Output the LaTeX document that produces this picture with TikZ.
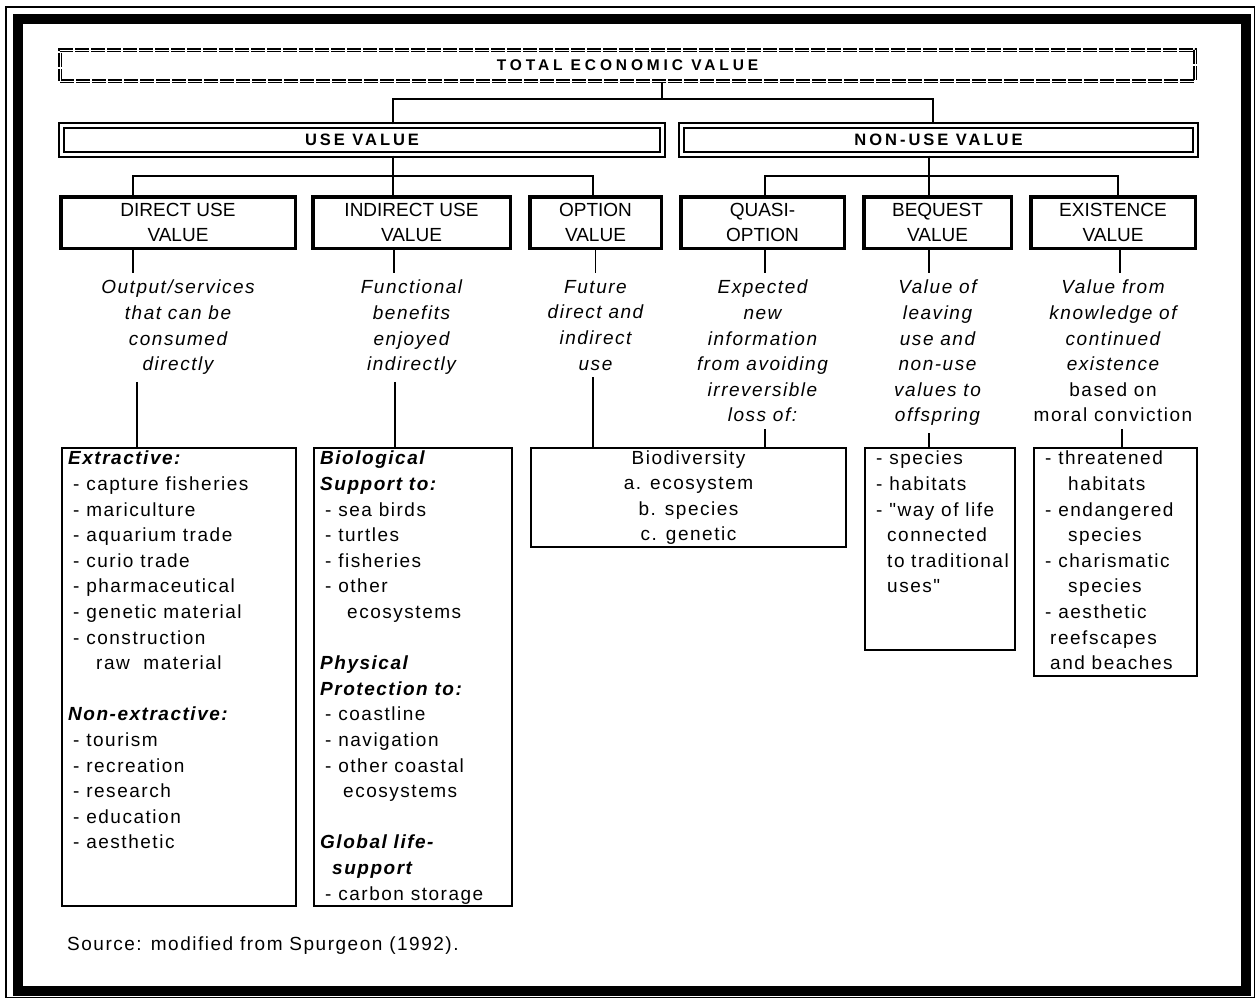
\documentclass[tikz,border=0pt]{standalone}
\usepackage{fontspec}
\setmainfont{Liberation Sans}
\newfontfamily\trackfont[LetterSpace=8]{Liberation Sans}
\newfontfamily\headfont[LetterSpace=18]{Liberation Sans}
\newfontfamily\titlefont[LetterSpace=25]{Liberation Sans}
\newcommand{\lsz}{\fontsize{19}{25.6}\selectfont}
\newcommand{\hdr}[1]{{\bfseries\itshape #1}}
\newcommand{\itm}{\hspace*{5pt}-~}
\tikzset{
	conn/.style={line width=1.3pt},
	tevbox/.style={draw, line width=1.6pt, double, double distance=0.6pt, dash pattern=on 14pt off 2pt, inner sep=0pt, font=\titlefont\bfseries\fontsize{15.5}{18}\selectfont},
	groupbox/.style={draw, line width=2.4pt, double, double distance=2.2pt, inner sep=0pt, minimum height=29pt, font=\headfont\bfseries\fontsize{16.5}{20}\selectfont},
	catbox/.style={draw, line width=3.5pt, inner sep=0pt, minimum height=51.5pt, align=center, font=\fontsize{19}{25}\selectfont},
	desc/.style={anchor=north, align=center, inner xsep=0pt, inner ysep=7pt, font=\trackfont\itshape\lsz},
	listbox/.style={draw, line width=2.4pt, anchor=north west, inner xsep=6pt, inner ysep=3pt, font=\trackfont\lsz},
	biobox/.style={draw, line width=2.4pt, inner sep=0pt, align=center, font=\trackfont\lsz}
}
\begin{document}
\begin{tikzpicture}[x=1pt, y=-1pt, line join=miter]
	\useasboundingbox (0,0) rectangle (1259,998);
	% frame
	\draw[line width=1.6pt] (6,7) rectangle (1254.5,997.3);
	\draw[line width=10pt] (18,19) rectangle (1245.5,991);

	\node[tevbox, minimum width=1135pt, minimum height=31pt] (tev) at (627.5,65.5) {TOTAL ECONOMIC VALUE};
	\node[groupbox, minimum width=601pt] (usev) at (362,140) {USE VALUE};
	\node[groupbox, minimum width=514pt] (nonusev) at (938.5,140) {NON-USE VALUE};

	\node[catbox, minimum width=234.5pt] (direct) at (178,222.5) {DIRECT USE\\VALUE};
	\node[catbox, minimum width=197.5pt] (indirect) at (411.5,222.5) {INDIRECT USE\\VALUE};
	\node[catbox, minimum width=131.5pt] (option) at (595.5,222.5) {OPTION\\VALUE};
	\node[catbox, minimum width=163.5pt] (quasi) at (762.5,222.5) {QUASI-\\OPTION};
	\node[catbox, minimum width=147.5pt] (bequest) at (937.5,222.5) {BEQUEST\\VALUE};
	\node[catbox, minimum width=164.5pt] (exist) at (1113,222.5) {EXISTENCE\\VALUE};

	\node[desc] (d-direct) at (178,273) {Output/services\\that can be\\consumed\\directly};
	\node[desc] (d-indirect) at (411.5,273) {Functional\\benefits\\enjoyed\\indirectly};
	\node[desc] (d-option) at (595.5,273) {Future\\direct and\\indirect\\use};
	\node[desc] (d-quasi) at (762.5,273) {Expected\\new\\information\\from avoiding\\irreversible\\loss of:};
	\node[desc] (d-bequest) at (937.5,273) {Value of\\leaving\\use and\\non-use\\values to\\offspring};
	\node[desc] (d-exist) at (1113,273) {Value from\\knowledge of\\continued\\existence\\{\upshape based on}\\{\upshape moral conviction}};

	% lists
	\node[listbox] (l-direct) at (61,447) {\parbox[t][451.6pt][t]{221.6pt}{%
		\hdr{Extractive:}\\
		\itm capture~fisheries\\
		\itm mariculture\\
		\itm aquarium~trade\\
		\itm curio~trade\\
		\itm pharmaceutical\\
		\itm genetic~material\\
		\itm construction\\
		\hspace*{28pt}raw~~material\\[25.6pt]
		\hdr{Non-extractive:}\\
		\itm tourism\\
		\itm recreation\\
		\itm research\\
		\itm education\\
		\itm aesthetic}};
	\node[listbox] (l-indirect) at (313,447) {\parbox[t][451.6pt][t]{185.6pt}{%
		\hdr{Biological}\\
		\hdr{Support~to:}\\
		\itm sea~birds\\
		\itm turtles\\
		\itm fisheries\\
		\itm other\\
		\hspace*{27pt}ecosystems\\[25.6pt]
		\hdr{Physical}\\
		\hdr{Protection~to:}\\
		\itm coastline\\
		\itm navigation\\
		\itm other~coastal\\
		\hspace*{23pt}ecosystems\\[25.6pt]
		\hdr{Global~life-}\\
		\hspace*{12pt}\hdr{support}\\
		\itm carbon~storage}};
	\node[biobox, minimum width=314.6pt, minimum height=98.6pt] (l-bio) at (688.5,497.5) {Biodiversity\\a. ecosystem\\b. species\\c. genetic};
	\node[listbox] (l-bequest) at (864,447) {\parbox[t][195.6pt][t]{137.6pt}{%
		\itm species\\
		\itm habitats\\
		\itm "way~of~life\\
		\hspace*{16pt}connected\\
		\hspace*{16pt}to~traditional\\
		\hspace*{16pt}uses"}};
	\node[listbox] (l-exist) at (1033,447) {\parbox[t][221.6pt][t]{150.6pt}{%
		\itm threatened\\
		\hspace*{28pt}habitats\\
		\itm endangered\\
		\hspace*{28pt}species\\
		\itm charismatic\\
		\hspace*{28pt}species\\
		\itm aesthetic\\
		\hspace*{10pt}reefscapes\\
		\hspace*{10pt}and~beaches}};

	\node[anchor=base west, inner sep=0pt, font=\trackfont\lsz] (src) at (67,950) {Source: modified from Spurgeon (1992).};

	% connectors
	\coordinate (f0) at (662,99);
	\coordinate (u0) at (393,99);
	\coordinate (n0) at (933,99);
	\draw[conn] (tev.south -| f0) -- (f0);
	\draw[conn] (usev.north -| u0) -- (u0) -- (n0) -- (nonusev.north -| n0);
	\coordinate (ua) at (133,176);
	\coordinate (ub) at (393,176);
	\coordinate (uc) at (593,176);
	\draw[conn] (usev.south -| ub) -- (indirect.north -| ub);
	\draw[conn] (direct.north -| ua) -- (ua) -- (uc) -- (option.north -| uc);
	\coordinate (na) at (765,176);
	\coordinate (nb) at (929,176);
	\coordinate (nc) at (1118,176);
	\draw[conn] (nonusev.south -| nb) -- (bequest.north -| nb);
	\draw[conn] (quasi.north -| na) -- (na) -- (nc) -- (exist.north -| nc);
	\foreach \a/\dx in {direct/-45,indirect/-17.5,option/0,quasi/2.5,bequest/-8.5,exist/7}
		\draw[conn] ([xshift=\dx pt]\a.south) -- ([xshift=\dx pt]d-\a.north);
	\foreach \a/\b/\dx in {direct/l-direct/-41,indirect/l-indirect/-16.5,option/l-bio/-2.5,quasi/l-bio/2.5,bequest/l-bequest/-8.5,exist/l-exist/9}
		\draw[conn] ([xshift=\dx pt]d-\a.south) coordinate (t) -- (t |- \b.north);
\end{tikzpicture}
\end{document}
